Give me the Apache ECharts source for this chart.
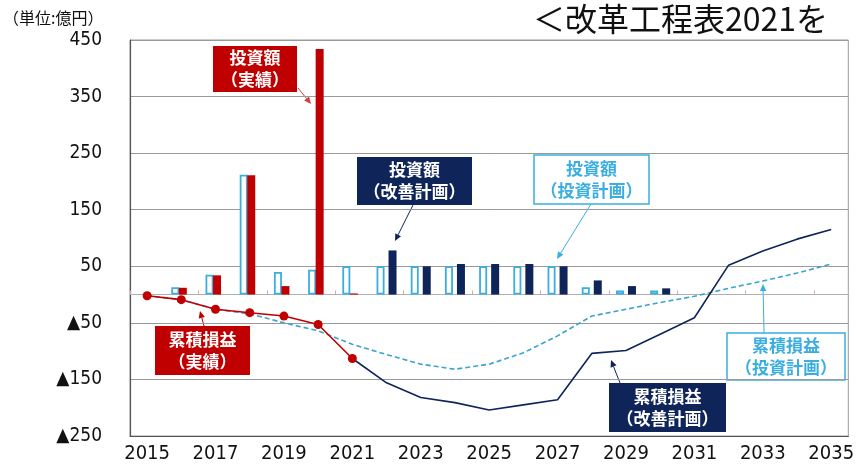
<!DOCTYPE html>
<html><head><meta charset="utf-8">
<script src="https://cdn.jsdelivr.net/npm/echarts@6/dist/echarts.min.js"></script>
<style>html,body{margin:0;padding:0;background:#fff}#c{width:857px;height:467px}</style>
</head><body><div id="c"></div>
<script>
// ---- data ----
const years = ['2015','2016','2017','2018','2019','2020','2021','2022','2023','2024','2025','2026','2027','2028','2029','2030','2031','2032','2033','2034','2035'];
const investPlan   = [null,13,35,212,40,44,50,50,50,50,50,50,50,13,7,7,null,null,null,null,null];
const investActual = [null,12,34,211,15,434,2,null,null,null,null,null,null,null,null,null,null,null,null,null,null];
const investImprove= [null,null,null,null,null,null,null,78,50,54,54,54,50,25,15,11,null,null,null,null,null];
const cumActual    = [-2,-9,-26,-32,-38,-53,-113,null,null,null,null,null,null,null,null,null,null,null,null,null,null];
const cumImprove   = [null,null,null,null,null,null,-113,-156,-182,-191,-204,-195,-186,-104,-99,-70,-41,52,77,98,115];
const cumPlan      = [-2,-9,-26,-34,-50,-64,-88,-106,-123,-132,-123,-103,-73,-38,-26,-14,-3,11,24,38,54];
const yTicks = {min:-250, max:450, interval:100};

const RED = '#c00000', NAVY = '#0f2559', LBLUE = '#3aaee0', DASH = '#3ba3d3';
const CJK = '"Noto Sans CJK JP", sans-serif';
const NARROW = '"Liberation Sans Narrow", "DejaVu Sans Condensed", sans-serif';

function box(x, y, w, h, text, bg, border, color) {
  return {
    type: 'group', z: 100,
    children: [
      {type:'rect', shape:{x:x, y:y, width:w, height:h}, style:{fill:bg, stroke:border, lineWidth: border ? 1.5 : 0}},
      {type:'text', x: x + w/2, y: y + h/2, style:{text:text, fill:color, font:'bold 17px ' + CJK, align:'center', verticalAlign:'middle', lineHeight:22}}
    ]
  };
}
function arrow(x1, y1, x2, y2, color) {
  const a = Math.atan2(y2 - y1, x2 - x1), L = 7, W = 3.2;
  const bx = x2 - L*Math.cos(a), by = y2 - L*Math.sin(a);
  const px = -Math.sin(a)*W, py = Math.cos(a)*W;
  return {
    type:'group', z: 100,
    children: [
      {type:'line', shape:{x1:x1, y1:y1, x2:bx, y2:by}, style:{stroke:color, lineWidth:1}},
      {type:'polygon', shape:{points:[[x2,y2],[bx+px,by+py],[bx-px,by-py]]}, style:{fill:color}}
    ]
  };
}

const chart = echarts.init(document.getElementById('c'), null, {renderer:'canvas'});
chart.setOption({
  animation: false,
  backgroundColor: '#fff',
  grid: {left:130, right:5, top:40, bottom:31, show:true, borderColor:'#9a9a9a', borderWidth:1, containLabel:false},
  xAxis: [
    {type:'category', data: years, position:'bottom', boundaryGap:true,
     axisLine:{show:true, onZero:true, lineStyle:{color:'#b0b0b0', width:1}},
     axisTick:{show:true, inside:true, length:4, lineStyle:{color:'#d8a8a8'}},
     axisLabel:{show:false}, splitLine:{show:false}},
    {type:'category', data: years, position:'bottom', boundaryGap:true,
     axisLine:{show:true, onZero:false, lineStyle:{color:'#555', width:1.2}},
     axisTick:{show:false},
     axisLabel:{show:true, interval:1, color:'#111', fontSize:20, fontFamily:NARROW, margin:8},
     splitLine:{show:false}},
    {type:'category', data: years, show:false, boundaryGap:true}
  ],
  yAxis: {type:'value', min:yTicks.min, max:yTicks.max, interval:yTicks.interval,
    axisLine:{show:true, lineStyle:{color:'#555', width:1.2}},
    axisTick:{show:false},
    splitLine:{show:true, lineStyle:{color:'#9a9a9a', width:1}},
    axisLabel:{color:'#111', fontSize:19, fontFamily:NARROW, margin:28,
      formatter: v => v < 0 ? '▲' + (-v) : String(v)}},
  series: [
    {name:'投資額（投資計画）', type:'bar', data: investPlan, barWidth:8, barGap:'50%',
     itemStyle:{color:'#fff', borderColor:LBLUE, borderWidth:1.8}},
    {name:'投資額（改善計画）', type:'bar', data: investImprove, barWidth:8, barGap:'50%',
     itemStyle:{color:NAVY}},
    {name:'_slot', type:'bar', xAxisIndex:2, data: [], barWidth:8, barGap:'-62%', silent:true},
    {name:'投資額（実績）', type:'bar', xAxisIndex:2, data: investActual, barWidth:8, barGap:'-62%',
     itemStyle:{color:RED}, z:3},
    {name:'累積損益（投資計画）', type:'line', data: cumPlan, symbol:'none',
     lineStyle:{color:DASH, width:1.6, type:[5,3]}, z:4},
    {name:'累積損益（改善計画）', type:'line', data: cumImprove, symbol:'none',
     lineStyle:{color:NAVY, width:1.6}, z:5},
    {name:'累積損益（実績）', type:'line', data: cumActual, symbol:'circle', symbolSize:9,
     itemStyle:{color:RED}, lineStyle:{color:RED, width:1.6}, z:6}
  ],
  graphic: [
    {type:'text', left:3, top:10, style:{text:'（単位:億円）', fill:'#111', font:'16px ' + CJK}},
    {type:'text', x:533, y:19, style:{text:'＜改革工程表2021を', fill:'#111', font:'32px ' + CJK, verticalAlign:'middle'}},
    box(213, 46, 84, 46, '投資額\n（実績）', RED, null, '#fff'),
    arrow(298, 88, 311, 104, '#d04040'),
    box(357, 157, 115, 48, '投資額\n（改善計画）', NAVY, null, '#fff'),
    arrow(413, 205, 395, 241, NAVY),
    box(534, 155, 115, 49, '投資額\n（投資計画）', '#fff', LBLUE, LBLUE),
    arrow(591, 204, 557, 259, LBLUE),
    box(155, 326, 95, 49, '累積損益\n（実績）', RED, null, '#fff'),
    arrow(204, 326, 200, 311, RED),
    box(609, 383, 117, 49, '累積損益\n（改善計画）', NAVY, null, '#fff'),
    arrow(620, 383, 611, 360, NAVY),
    box(727, 333, 118, 47, '累積損益\n（投資計画）', '#fff', LBLUE, LBLUE),
    arrow(764, 333, 763, 284, LBLUE)
  ]
});
</script></body></html>
